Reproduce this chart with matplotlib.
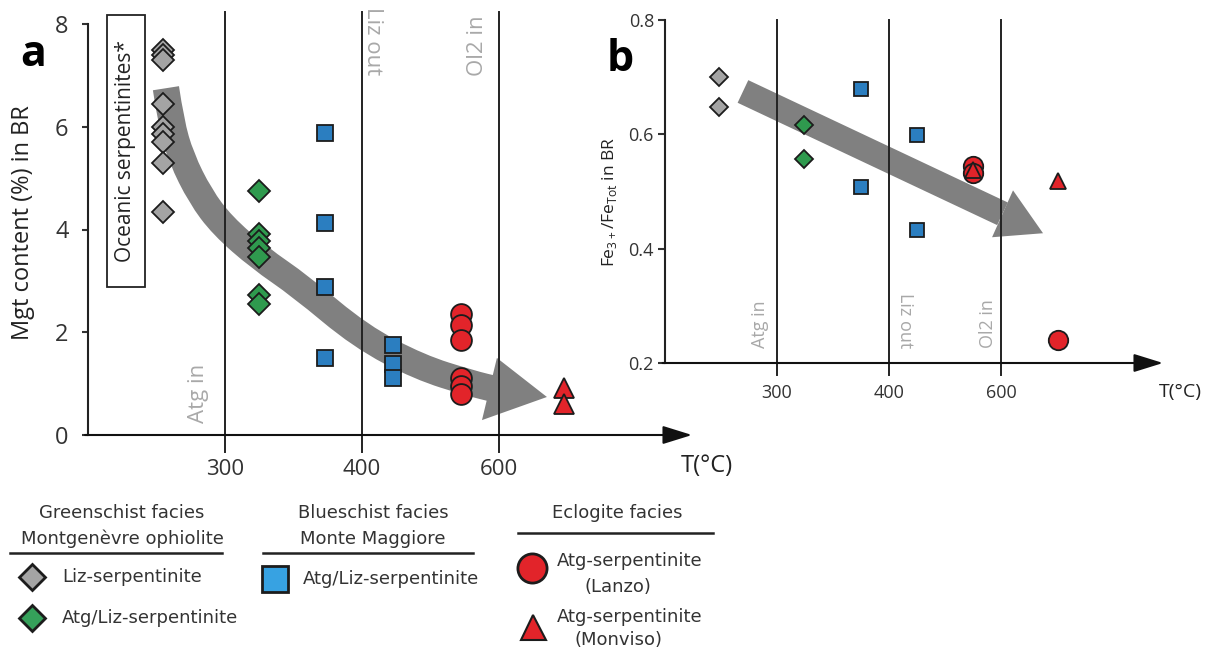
import numpy as np
import matplotlib.pyplot as plt
from matplotlib.path import Path
from matplotlib.patches import PathPatch, Polygon, Rectangle

plt.rcParams['font.family'] = ['Open Sans', 'DejaVu Sans']

# DATA ########################################################################
# temperature axis is not linear: 300, 400, 600 sit at equal steps
T_KNOTS = [200, 300, 400, 600, 800, 1000]
T_TICKS = [300, 400, 600]
PHASES = ['Atg in', 'Liz out', 'Ol2 in']

# panel a : Mgt content (%) in BR
a_liz_T = [255, 255, 255, 255, 255, 255, 255, 255, 255]
a_liz = [7.5, 7.4, 7.3, 6.45, 6.0, 5.85, 5.7, 5.3, 4.35]
a_atgliz_T = [325, 325, 325, 325, 325, 325, 325]
a_atgliz = [4.75, 3.92, 3.78, 3.64, 3.47, 2.72, 2.55]
a_blue_T = [373, 373, 373, 373, 445, 445, 445]
a_blue = [5.88, 4.12, 2.88, 1.5, 1.75, 1.38, 1.1]
a_lanzo_T = [545, 545, 545, 545, 545, 545]
a_lanzo = [2.35, 2.15, 1.85, 1.1, 0.95, 0.8]
a_monviso_T = [695, 695]
a_monviso = [0.92, 0.6]

# panel b : Fe3+/Fetot in BR
b_liz_T = [248, 248]
b_liz = [0.70, 0.648]
b_atgliz_T = [324, 324]
b_atgliz = [0.617, 0.556]
b_blue_T = [375, 375, 450, 450]
b_blue = [0.68, 0.508, 0.598, 0.432]
b_lanzo_T = [550, 550, 702]
b_lanzo = [0.545, 0.532, 0.24]
b_monviso_T = [550, 702]
b_monviso = [0.538, 0.518]


def tpos(t):
    return np.interp(t, T_KNOTS, np.arange(len(T_KNOTS)))


# COLOURS / LAYOUT ############################################################
GREY, GREEN, BLUE, RED = '#a4a4a4', '#2f9a4e', '#2b7ec0', '#e2242a'
EDGE = '#1c1c1c'
ARROW = '#808080'
PHASE_C = '#a8a8a8'

W, H = 1211, 655
fig = plt.figure(figsize=(W / 100, H / 100), dpi=100)


def box(l, t, r, b):
    return [l / W, 1 - b / H, (r - l) / W, (b - t) / H]


ax_a = fig.add_axes(box(88, 24, 692, 435))
ax_b = fig.add_axes(box(665, 20, 1163, 363))

ax_a.set_xlim(0, 4.409)
ax_a.set_ylim(0, 8)
ax_b.set_xlim(0, 4.446)
ax_b.set_ylim(0.2, 0.8)


def frame(ax, ylo, yhi, tsize, xpad):
    for s in ['top', 'right', 'bottom']:
        ax.spines[s].set_visible(False)
    ax.spines['left'].set_linewidth(1.5)
    ax.spines['left'].set_color('#222222')
    ax.patch.set_alpha(0)
    ax.annotate('', xy=(1, 0), xytext=(-0.005, 0), xycoords='axes fraction',
                arrowprops=dict(arrowstyle='-|>,head_length=0.9,head_width=0.28',
                                lw=1.5, color='#111111', mutation_scale=20,
                                shrinkA=0, shrinkB=0))
    for p in tpos(T_TICKS):
        ax.plot([p, p], [ylo, yhi], color='#222222', lw=1.4, clip_on=False, zorder=2.5)
    ax.set_xticks(tpos(T_TICKS))
    ax.set_xticklabels([str(t) for t in T_TICKS])
    ax.tick_params(axis='x', length=0, pad=xpad, labelsize=tsize, colors='#333333')


frame(ax_a, -0.33, 8.23, 16, 17)
frame(ax_b, 0.179, 0.8, 13, 15)

ax_a.set_yticks([0, 2, 4, 6, 8])
ax_a.tick_params(axis='y', length=4, width=1.5, pad=10, labelsize=17, colors='#333333')
ax_b.set_yticks([0.2, 0.4, 0.6, 0.8])
ax_b.set_yticklabels(['0.2', '0.4', '0.6', '0.8'])
ax_b.tick_params(axis='y', length=5, width=1.5, pad=3, labelsize=13, colors='#333333')

ax_a.text(-0.108, 0.518, 'Mgt content (%) in BR', transform=ax_a.transAxes,
          rotation=90, ha='center', va='center', fontsize=17, color='#222222')
ax_b.text(-0.111, 0.47, r'Fe$_{\mathregular{3+}}$/Fe$_{\mathregular{Tot}}$ in BR',
          transform=ax_b.transAxes, rotation=90, ha='center', va='center',
          fontsize=12.5, color='#222222')
ax_a.text(1.025, -0.075, 'T(°C)', transform=ax_a.transAxes, ha='center', va='center',
          fontsize=17, color='#222222')
ax_b.text(1.034, -0.085, 'T(°C)', transform=ax_b.transAxes, ha='center', va='center',
          fontsize=14, color='#222222')
ax_a.text(-0.09, 0.925, 'a', transform=ax_a.transAxes, ha='center', va='center',
          fontsize=31, fontweight='bold')
ax_b.text(-0.09, 0.885, 'b', transform=ax_b.transAxes, ha='center', va='center',
          fontsize=31, fontweight='bold')

# phase boundary labels
ax_a.text(0.803, 0.23, PHASES[0], rotation=90, ha='center', va='bottom', fontsize=16, color=PHASE_C)
ax_a.text(2.08, 8.33, PHASES[1], rotation=270, ha='center', va='top', fontsize=16, color=PHASE_C,
          clip_on=False)
ax_a.text(2.84, 8.17, PHASES[2], rotation=90, ha='center', va='top', fontsize=16, color=PHASE_C,
          clip_on=False)
for x, lab, rot in zip([0.848, 2.143, 2.884], PHASES, [90, 270, 90]):
    ax_b.text(x, 0.226, lab, rotation=rot, ha='center', va='bottom', fontsize=13, color=PHASE_C)

# oceanic serpentinites box
ax_a.add_patch(Rectangle((0.139, 2.88), 0.277, 5.29, fill=False, lw=1.3,
                         edgecolor='#222222', clip_on=False))
ax_a.text(0.277, 5.52, 'Oceanic serpentinites*', rotation=90, ha='center', va='center',
          fontsize=15, color='#222222')

# trend arrows
def smooth_path(pts):
    pts = np.asarray(pts)
    verts = [pts[0]]
    codes = [Path.MOVETO]
    for i in range(1, len(pts) - 1):
        verts += [pts[i], (pts[i] + pts[i + 1]) / 2]
        codes += [Path.CURVE3, Path.CURVE3]
    verts.append(pts[-1])
    codes.append(Path.LINETO)
    return Path(verts, codes)


a_curve = [(0.569, 6.75), (0.605, 6.1), (0.68, 5.4), (0.82, 4.65), (0.98, 4.08),
           (1.25, 3.45), (1.55, 2.9), (1.99, 1.92), (2.42, 1.32), (2.79, 1.01), (2.99, 0.88)]
ax_a.add_patch(PathPatch(smooth_path(a_curve), fill=False, lw=19, edgecolor=ARROW,
                         capstyle='butt', joinstyle='round', zorder=1.5))
ax_a.add_patch(Polygon([(2.985, 1.50), (3.350, 0.74), (2.876, 0.29)], closed=True,
                       facecolor=ARROW, edgecolor='none', zorder=1.5))

ax_b.plot([0.696, 3.013], [0.675, 0.461], color=ARROW, lw=18, solid_capstyle='butt', zorder=1.5)
ax_b.add_patch(Polygon([(3.107, 0.502), (3.375, 0.427), (2.920, 0.420)], closed=True,
                       facecolor=ARROW, edgecolor='none', zorder=1.5))

# data points
def pts(ax, T, v, marker, color, ms):
    ax.plot(tpos(T), v, linestyle='none', marker=marker, markersize=ms, markerfacecolor=color,
            markeredgecolor=EDGE, markeredgewidth=1.3, zorder=3, clip_on=False)


pts(ax_a, a_liz_T, a_liz, 'D', GREY, 11)
pts(ax_a, a_atgliz_T, a_atgliz, 'D', GREEN, 11)
pts(ax_a, a_blue_T, a_blue, 's', BLUE, 11)
pts(ax_a, a_lanzo_T, a_lanzo, 'o', RED, 15)
pts(ax_a, a_monviso_T, a_monviso, '^', RED, 14)

pts(ax_b, b_liz_T, b_liz, 'D', GREY, 9.5)
pts(ax_b, b_atgliz_T, b_atgliz, 'D', GREEN, 9.5)
pts(ax_b, b_blue_T, b_blue, 's', BLUE, 10)
pts(ax_b, b_lanzo_T, b_lanzo, 'o', RED, 14)
pts(ax_b, b_monviso_T, b_monviso, '^', RED, 11)

# LEGEND ######################################################################
lax = fig.add_axes([0, 0, 1, 1], zorder=-1)
lax.set_xlim(0, W)
lax.set_ylim(H, 0)
lax.axis('off')
lkw = dict(fontsize=13, color='#333333', family='DejaVu Sans', va='center')

lax.text(122, 513, 'Greenschist facies', ha='center', **lkw)
lax.text(122, 539, 'Montgenèvre ophiolite', ha='center', **lkw)
lax.plot([10, 222], [553, 553], color='#222222', lw=1.8)
lax.plot(32, 577, marker='D', ms=13.5, mfc=GREY, mec=EDGE, mew=2)
lax.text(62, 577, 'Liz-serpentinite', ha='left', **lkw)
lax.plot(32, 618, marker='D', ms=13.5, mfc='#35a05a', mec=EDGE, mew=2)
lax.text(62, 618, 'Atg/Liz-serpentinite', ha='left', **lkw)

lax.text(373, 513, 'Blueschist facies', ha='center', **lkw)
lax.text(373, 539, 'Monte Maggiore', ha='center', **lkw)
lax.plot([263, 473], [553, 553], color='#222222', lw=1.8)
lax.plot(275, 579, marker='s', ms=19, mfc='#37a2e2', mec=EDGE, mew=2)
lax.text(303, 579, 'Atg/Liz-serpentinite', ha='left', **lkw)

lax.text(617, 513, 'Eclogite facies', ha='center', **lkw)
lax.plot([518, 713], [533, 533], color='#222222', lw=1.8)
lax.plot(532, 568, marker='o', ms=21, mfc=RED, mec=EDGE, mew=2)
lax.text(630, 561, 'Atg-serpentinite', ha='center', **lkw)
lax.text(618, 587, '(Lanzo)', ha='center', **lkw)
lax.plot(533, 627, marker='^', ms=18, mfc=RED, mec=EDGE, mew=1.5)
lax.text(630, 617, 'Atg-serpentinite', ha='center', **lkw)
lax.text(618, 640, '(Monviso)', ha='center', **lkw)

plt.savefig('out.png', dpi=100)
